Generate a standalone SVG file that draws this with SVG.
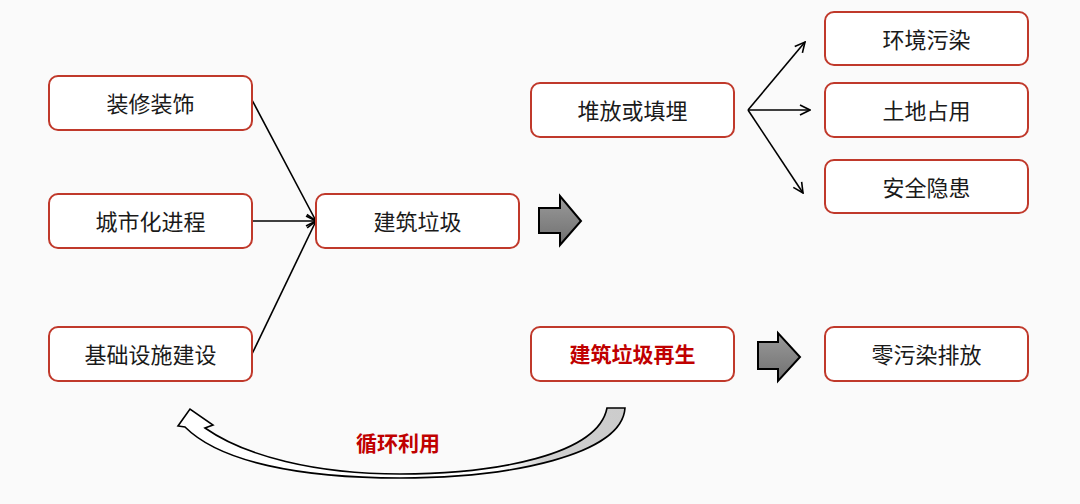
<svg xmlns="http://www.w3.org/2000/svg" width="1080" height="504" viewBox="0 0 1080 504">
<style>
.box{fill:#ffffff;stroke:#c0392b;stroke-width:2}
.t{font-family:"Noto Sans CJK SC","Noto Sans",sans-serif;font-size:22px;fill:#1a1a1a;text-anchor:middle;dominant-baseline:central}
.r{fill:#c00000;font-weight:bold;font-size:21px}
.ln{fill:none;stroke:#000;stroke-width:1.6}
.blk{stroke:#000;stroke-width:2;stroke-linejoin:miter;fill:url(#g)}
</style>
<defs>
<marker id="ah" viewBox="0 0 12 12" refX="11" refY="6" markerWidth="12" markerHeight="12" markerUnits="userSpaceOnUse" orient="auto">
<path d="M1,1 L11,6 L1,11" fill="none" stroke="#000" stroke-width="1.6"/>
</marker>
<linearGradient id="g" x1="0" y1="0" x2="0" y2="1">
<stop offset="0" stop-color="#9a9a9a"/>
<stop offset="1" stop-color="#707070"/>
</linearGradient>
<linearGradient id="cg" x1="0" y1="0" x2="1" y2="0">
<stop offset="0" stop-color="#ffffff"/>
<stop offset="0.72" stop-color="#ffffff"/>
<stop offset="0.82" stop-color="#d0d0d0"/>
<stop offset="1" stop-color="#cccccc"/>
</linearGradient>
</defs>
<rect width="1080" height="504" fill="#fafafa"/>

<g id="connectors">
<line class="ln" x1="252" y1="100" x2="316" y2="221" marker-end="url(#ah)"/>
<line class="ln" x1="252" y1="221" x2="316" y2="221" marker-end="url(#ah)"/>
<line class="ln" x1="252" y1="354" x2="316" y2="221" marker-end="url(#ah)"/>
<line class="ln" x1="748" y1="110" x2="805" y2="42" marker-end="url(#ah)"/>
<line class="ln" x1="748" y1="110" x2="810" y2="110" marker-end="url(#ah)"/>
<line class="ln" x1="748" y1="110" x2="803" y2="193" marker-end="url(#ah)"/>
<path class="blk" d="M539,208 L560,208 L560,196 L581,221 L560,245 L560,233 L539,233 Z"/>
<path class="blk" d="M758,342 L778,342 L778,333 L800,357 L778,381 L778,369 L758,369 Z"/>
<path d="M625,408 C622,455 510,478 400,478 C300,478 220,462 185,427 L178,426 L190,409 L213,425 L205,428 C245,456 315,474 400,474 C495,474 598,455 607,408 Z" fill="url(#cg)" stroke="#000" stroke-width="1.6" stroke-linejoin="miter"/>
</g>

<g id="n1"><rect class="box" x="49" y="76" width="203" height="54" rx="9"/><text class="t" x="150.5" y="102">装修装饰</text></g>
<g id="n2"><rect class="box" x="49" y="194" width="203" height="54" rx="9"/><text class="t" x="150.5" y="220">城市化进程</text></g>
<g id="n3"><rect class="box" x="49" y="327" width="203" height="54" rx="9"/><text class="t" x="150.5" y="353">基础设施建设</text></g>
<g id="n4"><rect class="box" x="316" y="194" width="203" height="54" rx="9"/><text class="t" x="417.5" y="220">建筑垃圾</text></g>
<g id="n5"><rect class="box" x="531" y="83" width="203" height="54" rx="9"/><text class="t" x="632.5" y="109">堆放或填埋</text></g>
<g id="n6"><rect class="box" x="825" y="12" width="203" height="53" rx="9"/><text class="t" x="926.5" y="38">环境污染</text></g>
<g id="n7"><rect class="box" x="825" y="83" width="203" height="54" rx="9"/><text class="t" x="926.5" y="109">土地占用</text></g>
<g id="n8"><rect class="box" x="825" y="160" width="203" height="53" rx="9"/><text class="t" x="926.5" y="186">安全隐患</text></g>
<g id="n9"><rect class="box" x="531" y="327" width="203" height="54" rx="9"/><text class="t r" x="632.5" y="353">建筑垃圾再生</text></g>
<g id="n10"><rect class="box" x="825" y="327" width="203" height="54" rx="9"/><text class="t" x="926.5" y="353">零污染排放</text></g>
<g id="lbl"><text class="t r" x="398" y="442">循环利用</text></g>
</svg>
